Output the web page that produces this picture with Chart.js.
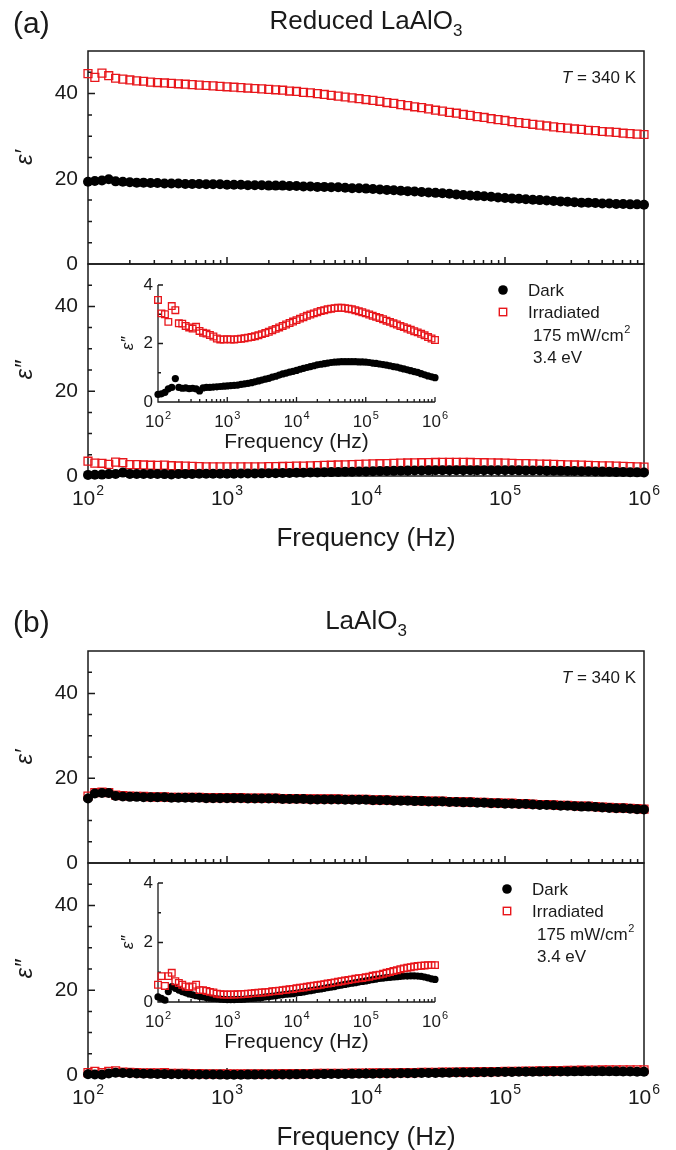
<!DOCTYPE html>
<html>
<head>
<meta charset="utf-8">
<script src="https://cdn.jsdelivr.net/npm/chart.js@4.4.1/dist/chart.umd.min.js"></script>
<style>
  body { margin: 0; background: #fff; }
  #fig { position: relative; width: 676px; height: 1150px; }
  #fig canvas { position: absolute; left: 0; top: 0; }
</style>
</head>
<body>
<div id="fig">
  <canvas id="aTop" width="676" height="1150"></canvas>
  <canvas id="aBot" width="676" height="1150"></canvas>
  <canvas id="aIns" width="676" height="1150"></canvas>
  <canvas id="bTop" width="676" height="1150"></canvas>
  <canvas id="bBot" width="676" height="1150"></canvas>
  <canvas id="bIns" width="676" height="1150"></canvas>
</div>
<script>
// measured frequencies (Hz), 20 points per decade
const freq = [
  100, 112, 126, 141, 158, 178, 200, 224, 251, 282, 316, 355, 398, 447, 501, 562, 631, 708, 794, 891,
  1000, 1122, 1259, 1413, 1585, 1778, 1995, 2239, 2512, 2818, 3162, 3548, 3981, 4467, 5012, 5623, 6310, 7079, 7943, 8913,
  10000, 11220, 12589, 14125, 15849, 17783, 19953, 22387, 25119, 28184, 31623, 35481, 39811, 44668, 50119, 56234, 63096, 70795, 79433, 89125,
  100000, 112202, 125893, 141254, 158489, 177828, 199526, 223872, 251189, 281838, 316228, 354813, 398107, 446684, 501187, 562341, 630957, 707946, 794328, 891251,
  1000000
];

// (a) reduced LaAlO3
const aRealDark = [
  19.3, 19.5, 19.6, 19.9, 19.4, 19.3, 19.2, 19.1, 19.1, 19.0, 19.0, 18.9, 18.9, 18.9, 18.8, 18.8, 18.8, 18.7, 18.7, 18.7,
  18.6, 18.6, 18.6, 18.5, 18.5, 18.5, 18.4, 18.4, 18.4, 18.3, 18.3, 18.2, 18.2, 18.1, 18.1, 18.0, 18.0, 17.9, 17.8, 17.8,
  17.7, 17.6, 17.5, 17.4, 17.3, 17.2, 17.1, 17.0, 16.9, 16.8, 16.7, 16.6, 16.5, 16.3, 16.2, 16.1, 16.0, 15.9, 15.8, 15.6,
  15.5, 15.4, 15.3, 15.2, 15.1, 15.0, 14.9, 14.8, 14.7, 14.6, 14.5, 14.4, 14.4, 14.3, 14.2, 14.2, 14.1, 14.1, 14.0, 14.0,
  13.9
];
const aRealIrr = [
  44.7, 43.8, 44.8, 44.2, 43.6, 43.4, 43.2, 43.0, 42.9, 42.7, 42.6, 42.5, 42.4, 42.3, 42.2, 42.1, 42.0, 41.9, 41.8, 41.7,
  41.6, 41.5, 41.4, 41.3, 41.2, 41.1, 41.0, 40.9, 40.8, 40.6, 40.5, 40.3, 40.2, 40.0, 39.8, 39.6, 39.4, 39.2, 39.0, 38.8,
  38.6, 38.4, 38.2, 37.9, 37.7, 37.4, 37.2, 36.9, 36.7, 36.4, 36.1, 35.9, 35.6, 35.4, 35.1, 34.9, 34.6, 34.4, 34.1, 33.9,
  33.7, 33.4, 33.2, 33.0, 32.8, 32.6, 32.4, 32.2, 32.0, 31.9, 31.7, 31.6, 31.4, 31.3, 31.1, 31.0, 30.9, 30.7, 30.6, 30.5,
  30.4
];
const aImagDark = [
  0.26, 0.28, 0.33, 0.45, 0.5, 0.8, 0.5, 0.47, 0.48, 0.46, 0.47, 0.45, 0.38, 0.48, 0.5, 0.5, 0.51, 0.52, 0.53, 0.54,
  0.55, 0.56, 0.57, 0.58, 0.6, 0.62, 0.64, 0.66, 0.69, 0.72, 0.75, 0.78, 0.81, 0.85, 0.88, 0.92, 0.96, 0.99, 1.02, 1.05,
  1.08, 1.12, 1.15, 1.18, 1.21, 1.24, 1.27, 1.29, 1.31, 1.33, 1.35, 1.36, 1.37, 1.38, 1.38, 1.38, 1.38, 1.38, 1.37, 1.37,
  1.36, 1.35, 1.33, 1.32, 1.3, 1.28, 1.26, 1.24, 1.21, 1.19, 1.16, 1.13, 1.1, 1.07, 1.04, 1.01, 0.97, 0.93, 0.89, 0.86,
  0.83
];
const aImagIrr = [
  3.49, 3.03, 3.0, 2.74, 3.28, 3.14, 2.69, 2.68, 2.6, 2.55, 2.51, 2.57, 2.43, 2.37, 2.34, 2.29, 2.24, 2.17, 2.14, 2.14,
  2.15, 2.14, 2.14, 2.15, 2.16, 2.18, 2.2, 2.22, 2.25, 2.28, 2.32, 2.36, 2.4, 2.45, 2.5, 2.55, 2.6, 2.65, 2.7, 2.75,
  2.8, 2.85, 2.9, 2.95, 2.99, 3.03, 3.07, 3.11, 3.14, 3.17, 3.19, 3.21, 3.22, 3.22, 3.21, 3.19, 3.17, 3.14, 3.1, 3.07,
  3.03, 2.99, 2.95, 2.91, 2.87, 2.83, 2.78, 2.74, 2.69, 2.65, 2.6, 2.56, 2.51, 2.47, 2.42, 2.38, 2.33, 2.28, 2.22, 2.17,
  2.12
];

// (b) LaAlO3
const bRealDark = [
  15.2, 16.4, 16.5, 16.5, 15.8, 15.7, 15.6, 15.6, 15.5, 15.5, 15.5, 15.5, 15.4, 15.4, 15.4, 15.4, 15.4, 15.3, 15.3, 15.3,
  15.3, 15.3, 15.3, 15.2, 15.2, 15.2, 15.2, 15.2, 15.1, 15.1, 15.1, 15.1, 15.0, 15.0, 15.0, 15.0, 15.0, 14.9, 14.9, 14.9,
  14.9, 14.8, 14.8, 14.8, 14.7, 14.7, 14.7, 14.6, 14.6, 14.5, 14.5, 14.5, 14.4, 14.4, 14.3, 14.3, 14.2, 14.2, 14.1, 14.1,
  14.0, 14.0, 13.9, 13.9, 13.8, 13.7, 13.7, 13.6, 13.5, 13.5, 13.4, 13.3, 13.3, 13.2, 13.1, 13.0, 12.9, 12.9, 12.8, 12.7,
  12.6
];
const bRealIrr = [
  15.8, 16.6, 16.7, 16.6, 16.0, 15.9, 15.8, 15.7, 15.7, 15.6, 15.6, 15.6, 15.5, 15.5, 15.5, 15.5, 15.5, 15.4, 15.4, 15.4,
  15.4, 15.4, 15.4, 15.3, 15.3, 15.3, 15.3, 15.3, 15.2, 15.2, 15.2, 15.2, 15.1, 15.1, 15.1, 15.1, 15.1, 15.0, 15.0, 15.0,
  15.0, 14.9, 14.9, 14.9, 14.8, 14.8, 14.8, 14.7, 14.7, 14.6, 14.6, 14.6, 14.5, 14.5, 14.4, 14.4, 14.3, 14.3, 14.2, 14.2,
  14.1, 14.1, 14.0, 14.0, 13.9, 13.8, 13.8, 13.7, 13.6, 13.6, 13.5, 13.4, 13.4, 13.3, 13.2, 13.1, 13.0, 13.0, 12.9, 12.8,
  12.7
];
const bImagDark = [
  0.17, 0.12, 0.06, 0.35, 0.52, 0.46, 0.4, 0.35, 0.31, 0.27, 0.24, 0.21, 0.19, 0.17, 0.15, 0.13, 0.12, 0.11, 0.1, 0.09,
  0.08, 0.08, 0.08, 0.09, 0.09, 0.1, 0.11, 0.12, 0.13, 0.14, 0.15, 0.17, 0.18, 0.2, 0.21, 0.23, 0.24, 0.26, 0.27, 0.28,
  0.3, 0.32, 0.34, 0.36, 0.38, 0.4, 0.42, 0.44, 0.46, 0.48, 0.5, 0.52, 0.55, 0.57, 0.59, 0.61, 0.63, 0.65, 0.67, 0.69,
  0.71, 0.73, 0.75, 0.77, 0.79, 0.8, 0.82, 0.83, 0.84, 0.85, 0.86, 0.87, 0.87, 0.88, 0.88, 0.87, 0.86, 0.84, 0.81, 0.78,
  0.76
];
const bImagIrr = [
  0.58, 0.87, 0.54, 0.87, 0.98, 0.7, 0.64, 0.58, 0.52, 0.5, 0.52, 0.58, 0.4, 0.4, 0.37, 0.34, 0.32, 0.28, 0.26, 0.25,
  0.25, 0.25, 0.25, 0.26, 0.26, 0.27, 0.28, 0.29, 0.3, 0.31, 0.32, 0.33, 0.34, 0.36, 0.37, 0.38, 0.4, 0.41, 0.43, 0.44,
  0.46, 0.48, 0.49, 0.51, 0.53, 0.55, 0.56, 0.58, 0.6, 0.62, 0.64, 0.66, 0.68, 0.7, 0.72, 0.74, 0.76, 0.78, 0.8, 0.81,
  0.83, 0.85, 0.88, 0.9, 0.92, 0.95, 0.98, 1.01, 1.04, 1.07, 1.1, 1.13, 1.15, 1.17, 1.19, 1.21, 1.22, 1.23, 1.24, 1.24,
  1.24
];

// axis ticks
const xTicks = [1e2, 1e3, 1e4, 1e5, 1e6];
const xTickExp = ['2', '3', '4', '5', '6'];
const mainYTicks = [0, 20, 40];
const mainYMinor = [5, 10, 15, 25, 30, 35, 45];
const insetYTicks = [0, 2, 4];
const insetYMinor = [1, 3];

const W = 676, H = 1150;
const FONT = '"Liberation Sans", Arial, sans-serif';
const INK = '#1a1a1a';
const RED = '#e8161b';

const xMinor = [];
for (const d of xTicks.slice(0, -1)) for (let m = 2; m < 10; m++) xMinor.push(m * d);

function txt(ctx, s, x, y, size, italic) {
  ctx.font = (italic ? 'italic ' : '') + size + 'px ' + FONT;
  ctx.textAlign = 'left';
  ctx.textBaseline = 'alphabetic';
  ctx.fillText(s, x, y);
  return ctx.measureText(s).width;
}

function width(ctx, s, size, italic) {
  ctx.font = (italic ? 'italic ' : '') + size + 'px ' + FONT;
  return ctx.measureText(s).width;
}

// "10" with a raised exponent, centred on x
function pow10(ctx, exp, x, y, size) {
  const sup = Math.round(size * 0.65);
  const w1 = width(ctx, '10', size), w2 = width(ctx, exp, sup);
  const x0 = x - (w1 + w2 + 1) / 2;
  txt(ctx, '10', x0, y, size);
  txt(ctx, exp, x0 + w1 + 1, y - size * 0.5, sup);
}

// title with a subscript, centred on x
function formula(ctx, main, sub, x, y, size) {
  const s2 = Math.round(size * 0.65);
  const w1 = width(ctx, main, size), w2 = width(ctx, sub, s2);
  const x0 = x - (w1 + w2) / 2;
  txt(ctx, main, x0, y, size);
  txt(ctx, sub, x0 + w1, y + size * 0.25, s2);
}

function tempNote(ctx, right, y) {
  const w2 = width(ctx, ' = 340 K', 17), w1 = width(ctx, 'T', 17, true);
  txt(ctx, 'T', right - w1 - w2, y, 17, true);
  txt(ctx, ' = 340 K', right - w2, y, 17);
}

function legendBlock(ctx, mx, tx, top) {
  ctx.fillStyle = '#000';
  ctx.beginPath();
  ctx.arc(mx, top + 26, 4.8, 0, Math.PI * 2);
  ctx.fill();
  ctx.strokeStyle = RED;
  ctx.lineWidth = 1.4;
  ctx.strokeRect(mx - 3.7, top + 48 - 3.7, 7.4, 7.4);
  ctx.fillStyle = INK;
  txt(ctx, 'Dark', tx, top + 32, 17);
  txt(ctx, 'Irradiated', tx, top + 54, 17);
  const w = txt(ctx, '175 mW/cm', tx + 5, top + 77, 17);
  txt(ctx, '2', tx + 5 + w + 0.5, top + 69, 11);
  txt(ctx, '3.4 eV', tx + 5, top + 99, 17);
}

// frame, inward ticks and text that Chart.js does not draw itself
function deco(cfg) {
  return {
    id: 'deco',
    beforeDatasetsDraw(chart) {
      const { ctx, chartArea: a, scales: { x, y } } = chart;
      ctx.save();
      ctx.strokeStyle = INK;
      ctx.lineWidth = cfg.inset ? 1.3 : 1.5;
      ctx.beginPath();
      if (cfg.inset) {
        ctx.moveTo(a.left, a.top);
        ctx.lineTo(a.left, a.bottom);
        ctx.lineTo(a.right, a.bottom);
      } else {
        ctx.rect(a.left, a.top, a.right - a.left, a.bottom - a.top);
      }
      const yt = cfg.inset ? insetYTicks : mainYTicks;
      const ym = cfg.inset ? insetYMinor : mainYMinor;
      const big = cfg.inset ? 5 : 7, small = cfg.inset ? 3 : 4;
      for (const v of yt) { const p = y.getPixelForValue(v); ctx.moveTo(a.left, p); ctx.lineTo(a.left + big, p); }
      for (const v of ym) { const p = y.getPixelForValue(v); ctx.moveTo(a.left, p); ctx.lineTo(a.left + small, p); }
      for (const v of xTicks) { const p = x.getPixelForValue(v); ctx.moveTo(p, a.bottom); ctx.lineTo(p, a.bottom - big); }
      for (const v of xMinor) { const p = x.getPixelForValue(v); ctx.moveTo(p, a.bottom); ctx.lineTo(p, a.bottom - small); }
      ctx.stroke();
      ctx.restore();
    },
    afterDraw(chart) {
      const { ctx, chartArea: a, scales: { x } } = chart;
      ctx.save();
      ctx.fillStyle = INK;
      if (cfg.xLabels) {
        xTicks.forEach((v, i) => pow10(ctx, xTickExp[i], x.getPixelForValue(v), a.bottom + cfg.xLabels.dy, cfg.xLabels.size));
        const t = cfg.xTitle;
        const w = width(ctx, 'Frequency (Hz)', t.size);
        txt(ctx, 'Frequency (Hz)', (a.left + a.right) / 2 - w / 2, a.bottom + t.dy, t.size);
      }
      if (cfg.head) {
        txt(ctx, cfg.head.tag, 13, cfg.head.tagY, 30);
        formula(ctx, cfg.head.main, '3', (a.left + a.right) / 2, a.top - 22, 26);
        tempNote(ctx, 636, a.top + 32);
      }
      if (cfg.legend) legendBlock(ctx, cfg.legend.mx, cfg.legend.tx, a.top);
      ctx.restore();
    }
  };
}

function pts(ys) {
  return freq.map((f, i) => ({ x: f, y: ys[i] }));
}

function darkSet(ys, r) {
  return { label: 'Dark', data: pts(ys), pointStyle: 'circle', pointRadius: r, backgroundColor: '#000', borderWidth: 0, clip: false };
}
function irrSet(ys, r) {
  return { label: 'Irradiated', data: pts(ys), pointStyle: 'rect', pointRadius: r, backgroundColor: 'rgba(0,0,0,0)', borderColor: RED, borderWidth: 1.3, clip: false };
}

function plot(id, box, inset, datasets, cfg) {
  const yMax = inset ? 4 : 50;
  const yTicks = inset ? insetYTicks : mainYTicks;
  new Chart(document.getElementById(id), {
    type: 'scatter',
    data: { datasets },
    options: {
      responsive: false,
      animation: false,
      events: [],
      layout: { padding: { left: 0, top: box.top, right: W - box.right, bottom: H - box.bottom } },
      plugins: { legend: { display: false }, tooltip: { enabled: false } },
      scales: {
        x: { type: 'logarithmic', min: 100, max: 1e6, display: false },
        y: {
          min: 0, max: yMax,
          afterFit: s => { s.width = box.left; },
          afterBuildTicks: s => { s.ticks = yTicks.map(v => ({ value: v })); },
          grid: { display: false, drawTicks: false, tickLength: 0 },
          border: { display: false },
          ticks: { font: { family: FONT, size: inset ? 17 : 21 }, color: INK, padding: inset ? 5 : 10 },
          title: {
            display: true,
            text: cfg.yTitle,
            color: INK,
            font: { family: FONT, size: inset ? 17 : 24, style: 'italic' },
            padding: { top: inset ? 118 : 11, bottom: 0 }
          }
        }
      }
    },
    plugins: [deco(Object.assign({ inset }, cfg))]
  });
}

const mainLabels = { size: 21, dy: 29 };
const mainTitle = { size: 26, dy: 70 };
const insetLabels = { size: 17, dy: 25 };
const insetTitle = { size: 21, dy: 46 };

// panel (a)
plot('aTop', { left: 88, right: 644, top: 51, bottom: 264 }, false,
  [darkSet(aRealDark, 5), irrSet(aRealIrr, 5.6)],
  { yTitle: 'ε′', head: { tag: '(a)', tagY: 33, main: 'Reduced LaAlO' } });
plot('aBot', { left: 88, right: 644, top: 264, bottom: 476 }, false,
  [darkSet(aImagDark, 5), irrSet(aImagIrr, 5.6)],
  { yTitle: 'ε″', xLabels: mainLabels, xTitle: mainTitle, legend: { mx: 503, tx: 528 } });
plot('aIns', { left: 158, right: 435, top: 285, bottom: 402 }, true,
  [irrSet(aImagIrr, 4.7), darkSet(aImagDark, 3.6)],
  { yTitle: 'ε″', xLabels: insetLabels, xTitle: insetTitle });

// panel (b)
plot('bTop', { left: 88, right: 644, top: 651, bottom: 863 }, false,
  [darkSet(bRealDark, 5), irrSet(bRealIrr, 5.6)],
  { yTitle: 'ε′', head: { tag: '(b)', tagY: 632, main: 'LaAlO' } });
plot('bBot', { left: 88, right: 644, top: 863, bottom: 1075 }, false,
  [darkSet(bImagDark, 5), irrSet(bImagIrr, 5.6)],
  { yTitle: 'ε″', xLabels: mainLabels, xTitle: mainTitle, legend: { mx: 507, tx: 532 } });
plot('bIns', { left: 158, right: 435, top: 883, bottom: 1002 }, true,
  [irrSet(bImagIrr, 4.7), darkSet(bImagDark, 3.6)],
  { yTitle: 'ε″', xLabels: insetLabels, xTitle: insetTitle });
</script>
</body>
</html>
